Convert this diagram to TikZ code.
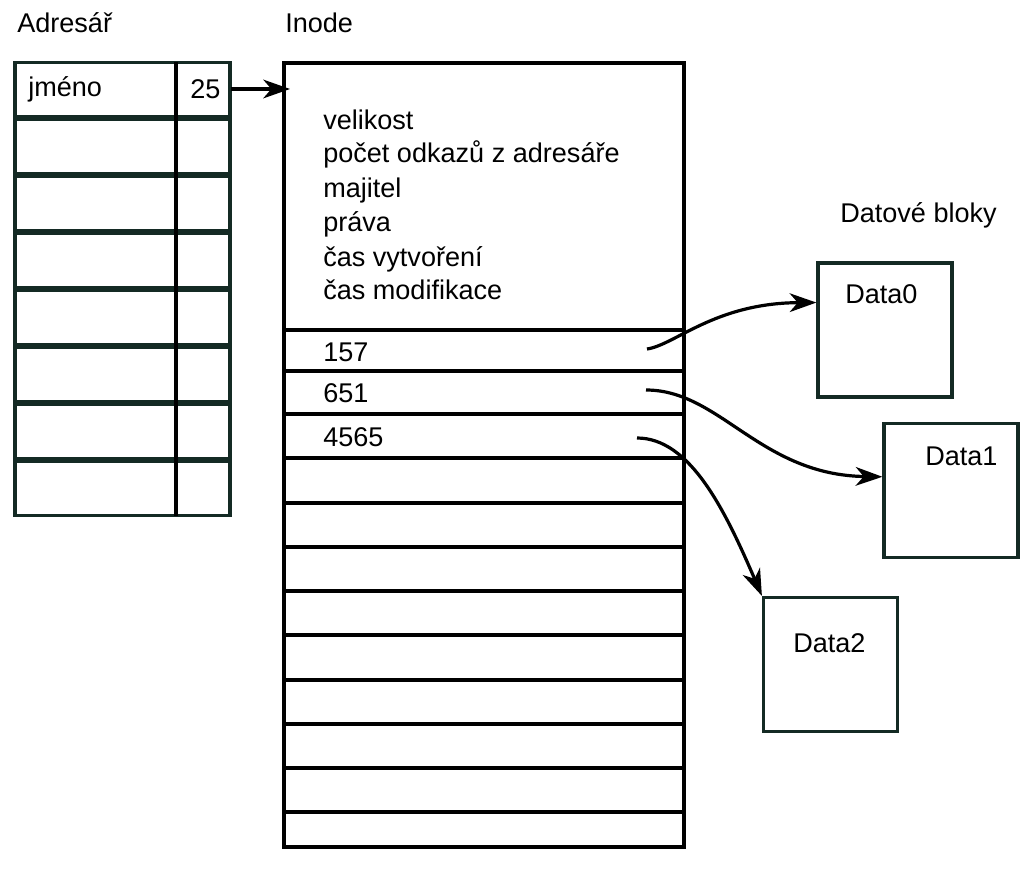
\documentclass[tikz,border=0pt]{standalone}
\usepackage{fontspec}
\setmainfont{Liberation Sans}
\usetikzlibrary{arrows.meta,calc}
\definecolor{dgreen}{RGB}{20,42,36}
\tikzset{
  lbl/.style={anchor=base west,inner sep=0pt,font=\fontsize{20.3}{24}\selectfont},
  dirrow/.style={draw=dgreen,line width=2.4pt},
  inodeline/.style={draw=black,line width=2.4pt},
  datablk/.style={draw=dgreen,line width=2.4pt,minimum width=100.5pt,minimum height=100.5pt,inner sep=0pt},
  conn/.style={draw=black,line width=2.4pt,-{Stealth[length=20pt,width=14pt,inset=6pt]}},
}
\begin{document}
\begin{tikzpicture}[x=0.75pt,y=-0.75pt]
\useasboundingbox (0,0) rectangle (1036,870);
% titles
\node[lbl] (tdir) at (17,33) {Adresář};
\node[lbl] (tinode) at (285,33) {Inode};
\node[lbl] (tdata) at (840,223) {Datové bloky};
% directory table
\foreach \i in {0,...,7}{
  \draw[dirrow] (15,{62.5+57*\i}) rectangle (230,{116.5+57*\i});
}
\draw[line width=2.4pt] (176,62) -- (176,516);
\node[lbl] (jmeno) at (28,97) {jméno};
\node[lbl] (num25) at (190,99) {25};
\coordinate (dirout) at (231,89);
% inode
\draw[inodeline] (284,63) rectangle (684,847);
\foreach \y in {330,371,414,458,503,547,591,635,680,724,768,812}{
  \draw[inodeline] (284,\y) -- (684,\y);
}
\coordinate (inodein) at (290,89);
\node[lbl] (f1) at (323,130) {velikost};
\node[lbl] (f2) at (323,163) {počet odkazů z adresáře};
\node[lbl] (f3) at (323,198) {majitel};
\node[lbl] (f4) at (323,232) {práva};
\node[lbl] (f5) at (323,267) {čas vytvoření};
\node[lbl] (f6) at (323,300) {čas modifikace};
\node[lbl] (b157) at (323,361) {157};
\node[lbl] (b651) at (323,402) {651};
\node[lbl] (b4565) at (323,446) {4565};
\coordinate (p157) at (647,349);
\coordinate (p651) at (646,390);
\coordinate (p4565) at (637,438);
% data blocks
\node[datablk] (data0) at (885,330) {};
\node[datablk] (data1) at (951,490.5) {};
\node[datablk] (data2) at (830.5,664.5) {};
\node[lbl] (l0) at (845,303) {Data0};
\node[lbl] (l1) at (925,465) {Data1};
\node[lbl] (l2) at (793,652) {Data2};
\coordinate (d0in) at ($(data0.north west)!0.3!(data0.south west)$);
\coordinate (d1in) at ($(data1.north west)!0.4!(data1.south west)$);
% connectors
\draw[conn] (dirout) -- (inodein);
\draw[conn] (p157) .. controls (675,345) and (715,303) .. (d0in);
\draw[conn] (p651) .. controls (720,390) and (760,475) .. (d1in);
\draw[conn] (p4565) .. controls (690,438) and (725,510) .. (data2.north west);
\end{tikzpicture}
\end{document}
